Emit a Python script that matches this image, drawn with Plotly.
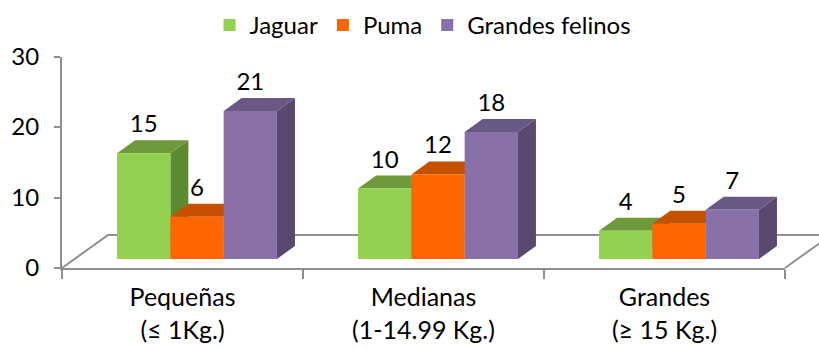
import plotly.graph_objects as go

# ---------------- data ----------------
categories = ["Pequeñas<br>(≤ 1Kg.)", "Medianas<br>(1-14.99 Kg.)", "Grandes<br>(≥ 15 Kg.)"]
series_names = ["Jaguar", "Puma", "Grandes felinos"]
jaguar = [15, 10, 4]
puma = [6, 12, 5]
grandes_felinos = [21, 18, 7]
y_ticks = [0, 10, 20, 30]

# ---------------- styles ----------------
front_colors = ["#92D050", "#FF6600", "#8A70A8"]
top_colors = ["#6F9A3C", "#C55100", "#6A5884"]
side_colors = ["#5E8A30", "#B04800", "#5A486F"]
axis_gray = "#8F8F8F"
FONT = "Lato"
FS = 24

W, H = 819, 349
PX_L, PX_R = 62, 785          # floor front edge (pixels)
PX_FRONT, PX_BACK = 268, 235  # floor front / back edge (pixels)
PX_BASE = 259                 # bar base (pixels)
K = 7.05                      # pixels per value unit
UNIT = (PX_R - PX_L) / 3.0    # pixels per category
BAR_W = 53.3 / UNIT
GROUP_SHIFT = 14.5 / UNIT
DX = 18 / UNIT
DY = 13 / K
FLOOR_DX = 46 / UNIT
LABEL_OFF = 27 / K

x_range = [-0.5 - PX_L / UNIT, 2.5 + (W - PX_R) / UNIT]
y2_range = [(PX_BASE - H) / K, PX_BASE / K]
v_front = (PX_BASE - PX_FRONT) / K
v_back = (PX_BASE - PX_BACK) / K

series_values = [jaguar, puma, grandes_felinos]
n_cat = len(categories)

fig = go.Figure()

# visible axes subplot
fig.add_trace(go.Scatter(x=categories, y=[None] * n_cat, xaxis="x2", yaxis="y3",
                         showlegend=False, hoverinfo="skip"))

# floor outline (left, back and right edges; front edge is the axis line)
fig.add_trace(go.Scatter(
    x=[-0.5, -0.5 + FLOOR_DX, n_cat - 0.5 + FLOOR_DX, n_cat - 0.5],
    y=[v_front, v_back, v_back, v_front],
    mode="lines", line=dict(color=axis_gray, width=2),
    xaxis="x", yaxis="y2", showlegend=False, hoverinfo="skip"))

centers_all = []
for s in range(len(series_names)):
    centers_all.append([i + GROUP_SHIFT + (s - 1) * BAR_W for i in range(n_cat)])

# side faces (lowest layer)
for s, vals in enumerate(series_values):
    for xc, v in zip(centers_all[s], vals):
        xr = xc + BAR_W / 2
        fig.add_trace(go.Scatter(
            x=[xr, xr, xr + DX, xr + DX, xr], y=[0, v, v + DY, DY, 0],
            fill="toself", fillcolor=side_colors[s], mode="lines",
            line=dict(width=0, color=side_colors[s]),
            xaxis="x", yaxis="y2", showlegend=False, hoverinfo="skip"))

# top faces
for s, vals in enumerate(series_values):
    for xc, v in zip(centers_all[s], vals):
        xl, xr = xc - BAR_W / 2, xc + BAR_W / 2
        fig.add_trace(go.Scatter(
            x=[xl, xr, xr + DX, xl + DX, xl], y=[v, v, v + DY, v + DY, v],
            fill="toself", fillcolor=top_colors[s], mode="lines",
            line=dict(width=0, color=top_colors[s]),
            xaxis="x", yaxis="y2", showlegend=False, hoverinfo="skip"))

# front faces (bars) and data labels on overlay axes, drawn above
for s, (name, vals) in enumerate(zip(series_names, series_values)):
    fig.add_trace(go.Bar(
        x=centers_all[s], y=vals, width=BAR_W, name=name,
        marker=dict(color=front_colors[s], line=dict(width=0)),
        xaxis="x3", yaxis="y4", hoverinfo="skip"))
for s, vals in enumerate(series_values):
    fig.add_trace(go.Scatter(
        x=centers_all[s], y=[v + LABEL_OFF for v in vals], text=[str(v) for v in vals],
        mode="text", textposition="middle center",
        textfont=dict(family=FONT, size=FS, color="#000000"),
        xaxis="x3", yaxis="y4", showlegend=False, hoverinfo="skip"))

fig.update_layout(
    width=W, height=H,
    margin=dict(l=0, r=0, t=0, b=0, autoexpand=False),
    paper_bgcolor="white", plot_bgcolor="rgba(0,0,0,0)",
    barmode="overlay",
    font=dict(family=FONT, size=FS, color="#000000"),
    xaxis=dict(domain=[0, 1], range=x_range, visible=False, anchor="y2", fixedrange=True),
    yaxis2=dict(domain=[0, 1], range=y2_range, visible=False, anchor="x", fixedrange=True),
    xaxis3=dict(overlaying="x", range=x_range, visible=False, anchor="y4", fixedrange=True),
    yaxis4=dict(overlaying="y2", range=y2_range, visible=False, anchor="x3", fixedrange=True),
    xaxis2=dict(domain=[PX_L / W, PX_R / W], anchor="y3", type="category",
                categoryorder="array", categoryarray=categories, range=[-0.5, n_cat - 0.5],
                showline=True, linecolor=axis_gray, linewidth=2,
                ticks="outside", tickson="boundaries", ticklen=9, tickwidth=2, tickcolor=axis_gray,
                ticklabelstandoff=6,
                tickfont=dict(family=FONT, size=25, color="#000000"),
                showgrid=False, zeroline=False, fixedrange=True),
    yaxis3=dict(domain=[(H - PX_FRONT) / H, (H - PX_FRONT + 30 * K) / H], anchor="x2",
                range=[0, 30], tickvals=y_ticks,
                showline=True, linecolor=axis_gray, linewidth=2,
                ticks="outside", ticklen=6, tickwidth=2, tickcolor=axis_gray,
                ticklabelstandoff=10,
                tickfont=dict(family=FONT, size=FS, color="#000000"),
                showgrid=False, zeroline=False, fixedrange=True),
    legend=dict(orientation="h", x=423 / W, xanchor="center", y=1 - 3 / H, yanchor="top",
                font=dict(family=FONT, size=FS, color="#000000"),
                bgcolor="rgba(0,0,0,0)", itemclick=False, itemdoubleclick=False),
)

fig.write_html("out.html")
